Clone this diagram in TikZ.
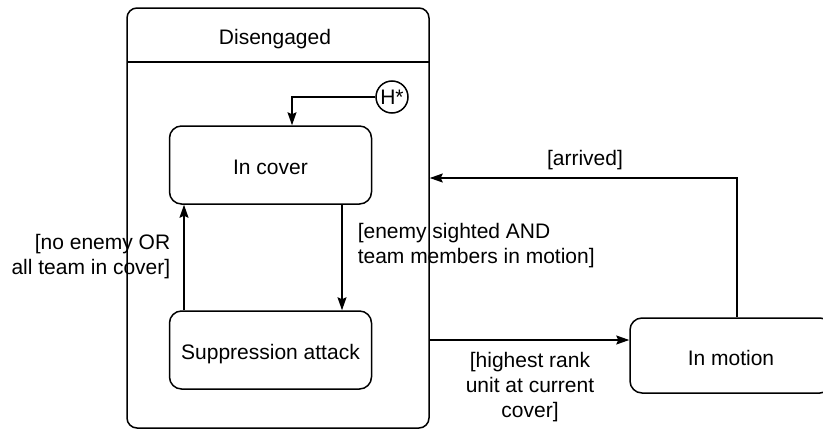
\documentclass[tikz,border=0pt]{standalone}
\usepackage{fontspec}
\setmainfont{Liberation Sans}
\usetikzlibrary{positioning,arrows.meta}

\begin{document}
\begin{tikzpicture}[x=1pt, y=-1pt, line width=1.5pt,
  every node/.style={font=\fontsize{21}{25}\selectfont, inner sep=0pt},
  st/.style={draw, rounded corners=12pt, minimum width=202pt, minimum height=78pt,
    text height=19pt, text depth=0pt},
  g/.style={align=center},
  a/.style={-{Stealth[length=13pt, width=9pt, inset=2pt]}}]
  \useasboundingbox (0,0) rectangle (823,431);
  % composite state
  \node[draw, rounded corners=10pt, minimum width=302pt, minimum height=420pt] (dis) at (278,218) {};
  \node[anchor=base] (distitle) at (275,45) {Disengaged};
  \coordinate (sepl) at (127,62);
  \coordinate (sepr) at (429,62);
  \draw (sepl) -- (sepr);
  \node[draw, circle, minimum size=32pt] (hist) at (392,97) {H*};
  % states
  \node[st] (cover)  at (270.5,165) {In cover};
  \node[st] (sup)    at (270.5,350) {Suppression attack};
  \node[st, minimum width=202pt, minimum height=75pt] (motion) at (731,355.5) {In motion};
  % transitions
  \draw[a] (hist.west) -| ([xshift=21.5pt]cover.north);
  \draw[a] ([xshift=71.5pt]cover.south) -- ([xshift=71.5pt]sup.north);
  \draw[a] ([xshift=-86.5pt]sup.north) -- ([xshift=-86.5pt]cover.south);
  \coordinate (mw) at ([yshift=15.5pt]motion.west);
  \draw[a] (dis.east |- mw) -- (mw);
  \coordinate (arrin) at (dis.east |- 0,178);
  \draw[a] ([xshift=6pt]motion.north) |- (arrin);
  % guards
  \node[g, align=right, anchor=east] (gback) at (171,257) {[no enemy OR\\all team in cover]};
  \node[g, align=left, anchor=west] (gsup) at (357,246) {[enemy sighted AND\\team members in motion]};
  \node[g, anchor=base] (garr) at (585,165) {[arrived]};
  \node[g] (gmove) at (530,387.5) {[highest rank\\unit at current\\cover]};
\end{tikzpicture}
\end{document}
